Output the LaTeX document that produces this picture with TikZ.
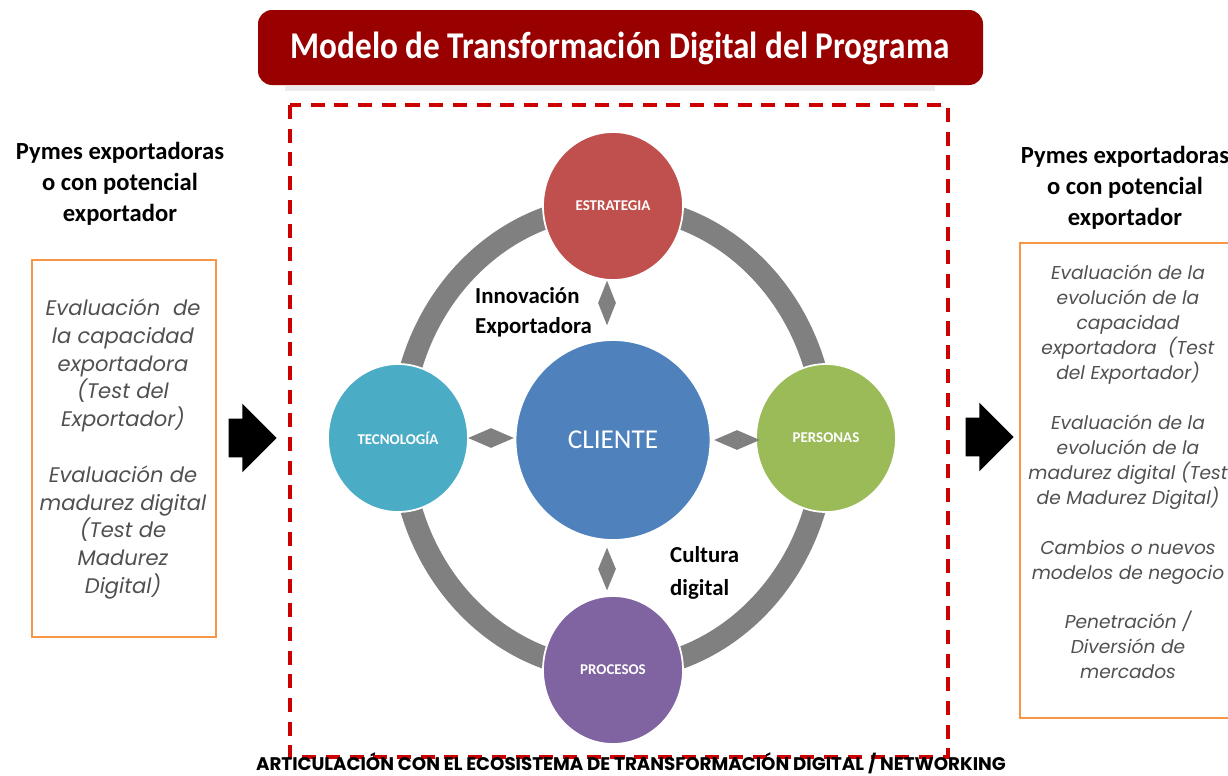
\documentclass[tikz,border=0pt]{standalone}
\usepackage{fontspec}
\setmainfont{Carlito}
\newfontfamily\gothic{Poppins}
\usetikzlibrary{shapes.geometric,shapes.arrows}

\definecolor{bannerred}{RGB}{153,0,0}
\definecolor{framered}{RGB}{204,0,0}
\definecolor{boxorange}{RGB}{247,150,70}
\definecolor{ringgray}{RGB}{128,128,128}
\definecolor{estratcol}{RGB}{192,80,77}
\definecolor{clientcol}{RGB}{79,129,189}
\definecolor{tecnocol}{RGB}{75,172,198}
\definecolor{personcol}{RGB}{155,187,89}
\definecolor{procecol}{RGB}{128,100,162}
\definecolor{bodygray}{RGB}{80,80,80}

\tikzset{
	pillar/.style = {ellipse, draw = white, line width = 1pt, minimum width = 2.8cm, minimum height = 2.96cm,
		inner sep = 0pt, text = white, font = \bfseries\fontsize{8.5}{10}\selectfont},
	link/.style = {diamond, fill = ringgray, inner sep = 0pt},
	heading/.style = {align = center, font = \bfseries\fontsize{14}{17.6}\selectfont},
	evalbox/.style = {draw = boxorange, line width = 1.2pt},
	evaltext/.style = {align = center, text = bodygray, font = \gothic\itshape\fontsize{12}{15.9}\selectfont},
	blockarrow/.style = {single arrow, fill = black, inner xsep = 0pt, inner ysep = 0.38cm,
		minimum height = 0.96cm, single arrow head extend = 0.3cm}
}

\begin{document}
\begin{tikzpicture}[x = 0.02cm, y = -0.02cm]
		\useasboundingbox (0,0) rectangle (1228,775);
		% banner
		\fill[bannerred, rounded corners = 8pt] (258,10) rectangle (983,85);
		\node (titulo) at (620,48) [text = white, font = \bfseries\fontsize{21.5}{24}\selectfont]
			{\scalebox{0.88}[1]{Modelo de Transformación Digital del Programa}};
		\fill[gray!15] (285,86) rectangle (935,91);
		\draw[framered, line width = 2.3pt, dash pattern = on 8pt off 5.5pt] (290,105) rectangle (948,757);
		% ring and pillars
		\draw[ringgray, line width = 0.44cm] (613,438) ellipse [x radius = 212, y radius = 232];
		\node (cliente) at (613,440) [ellipse, fill = clientcol, draw = white, line width = 1pt, minimum width = 3.9cm,
			minimum height = 4cm, text = white, font = \fontsize{15.5}{18}\selectfont] {CLIENTE};
		\node[pillar, fill = estratcol] (estrategia) at (613,206) {ESTRATEGIA};
		\node[pillar, fill = tecnocol] (tecnologia) at (398,438) {TECNOLOGÍA};
		\node[pillar, fill = personcol] (personas) at (826,438) {PERSONAS};
		\node[pillar, fill = procecol] (procesos) at (613,670) {PROCESOS};
		\node[link, minimum width = 0.36cm, minimum height = 0.9cm] (dtop) at (607,303) {};
		\node[link, minimum width = 0.36cm, minimum height = 0.86cm] (dbottom) at (607,569) {};
		\node[link, minimum width = 0.92cm, minimum height = 0.4cm] (dleft) at (491,438) {};
		\node[link, minimum width = 0.92cm, minimum height = 0.4cm] (dright) at (737,440) {};
		\node (innov) at (469,312) [anchor = west, align = left, font = \bfseries\fontsize{13}{17}\selectfont]
			{Innovación\\Exportadora};
		\node (cultura) at (664,573) [anchor = west, align = left, font = \bfseries\fontsize{13}{18.5}\selectfont]
			{Cultura\\digital};
		% left side
		\node[heading] (pymesizq) at (120,184) {Pymes exportadoras\\o con potencial\\exportador};
		\draw[evalbox] (32,260) rectangle (216,637);
		\node[evaltext] (evalizq) at (123,449) {Evaluación~ de\\la capacidad\\exportadora\\(Test del\\Exportador)\\[15.5pt]
			Evaluación de\\madurez digital\\(Test de\\Madurez\\Digital)};
		\node[blockarrow] (flechaizq) at (243,438) {};
		% right side
		\node[heading] (pymesder) at (1125,188) {Pymes exportadoras\\o con potencial\\exportador};
		\draw[evalbox] (1240,243) -- (1020,243) -- (1020,718) -- (1240,718);
		\node[evaltext, font = \gothic\itshape\fontsize{10.6}{14.2}\selectfont] (evalder) at (1128,472)
			{Evaluación de la\\evolución de la\\capacidad\\exportadora~~(Test\\del Exportador)\\[14.2pt]
			Evaluación de la\\evolución de la\\madurez digital (Test\\de Madurez Digital)\\[14.2pt]
			Cambios o nuevos\\modelos de negocio\\[14.2pt]
			Penetración /\\Diversión de\\mercados};
		\node[blockarrow] (flechader) at (980,437) {};
		% bottom line
		\node (articula) at (631,763) [inner sep = 1pt, font = \gothic\bfseries\fontsize{10.4}{12}\selectfont]
			{ARTICULACIÓN CON EL ECOSISTEMA DE TRANSFORMACIÓN DIGITAL / NETWORKING};
	\end{tikzpicture}
\end{document}
